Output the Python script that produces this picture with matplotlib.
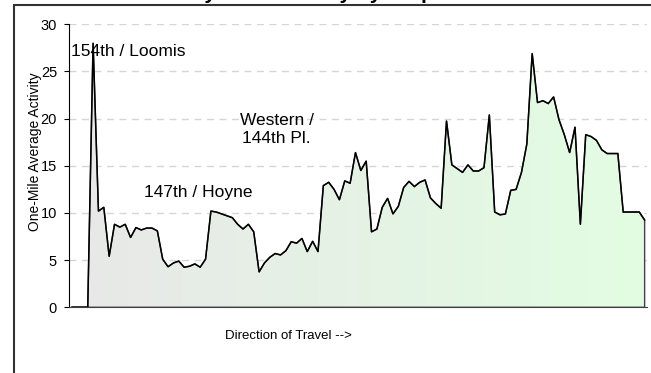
import numpy as np
import matplotlib
matplotlib.use("Agg")
import matplotlib.pyplot as plt
from matplotlib.colors import LinearSegmentedColormap
from matplotlib.patches import Polygon, Rectangle

plt.rcParams['font.family'] = ['Liberation Sans', 'DejaVu Sans']

# one-mile average activity, stops in direction of travel
activity = [0, 0, 0, 0,
            28.0, 10.2, 10.6, 5.4, 8.8, 8.5, 8.8, 7.4, 8.45, 8.2,
            8.4, 8.4, 8.1, 5.1, 4.3, 4.7, 4.9, 4.25, 4.35, 4.6,
            4.25, 5.1, 10.2, 10.1, 9.9, 9.7, 9.5, 8.8, 8.3, 8.8,
            8.0, 3.75, 4.7, 5.3, 5.7, 5.55, 6.0, 6.95, 6.8, 7.3,
            5.9, 7.0, 5.9, 12.9, 13.25, 12.5, 11.4, 13.4, 13.15, 16.4,
            14.5, 15.5, 8.0, 8.3, 10.6, 11.55, 9.9, 10.7, 12.7, 13.35,
            12.8, 13.25, 13.5, 11.6, 11.0, 10.5, 19.75, 15.1, 14.7, 14.3,
            15.1, 14.45, 14.45, 14.8, 20.4, 10.1, 9.8, 9.9, 12.4, 12.5,
            14.3, 17.3, 26.9, 21.7, 21.9, 21.6, 22.3, 19.9, 18.3, 16.4,
            19.1, 8.8, 18.3, 18.1, 17.7, 16.7, 16.3, 16.3, 16.3, 10.1,
            10.1, 10.1, 10.1, 9.25]

# (stop index, value, text)
landmarks = [(-0.1, 27.1, "154th / Loomis"),
             (13.5, 12.2, "147th / Hoyne"),
             (38.3, 18.9, "Western /\n144th Pl.")]

yticks = [0, 5, 10, 15, 20, 25, 30]

fig = plt.figure(figsize=(6.51, 3.73), dpi=100)
ax = fig.add_axes([69 / 651, 1 - 307.3 / 373, (647.3 - 69) / 651, (307.3 - 24.3) / 373])

x = np.arange(len(activity))
y = np.array(activity)

# area outline, also used to clip the gradient fill
verts = np.column_stack([np.r_[x[0], x, x[-1]], np.r_[0, y, 0]])
area = Polygon(verts, closed=True, facecolor='none', edgecolor='#404040', lw=1, zorder=3)
ax.add_patch(area)

fade = LinearSegmentedColormap.from_list('fade', ['#e8e8e8', '#e2fde2'])
grad = np.linspace(0, 1, 256).reshape(1, -1)
im = ax.imshow(grad, extent=[x[0], x[-1], 0, 30], aspect='auto', cmap=fade,
               origin='lower', zorder=1)
im.set_clip_path(area)

ax.plot(x, y, color='black', lw=1.1, zorder=4)

ax.set_xlim(-0.5, len(activity) - 0.5)
ax.set_ylim(0, 30)
ax.set_yticks(yticks)
ax.set_xticks([])
ax.yaxis.grid(True, linestyle=(0, (5, 4)), color='#d6d6d6', lw=1)
ax.set_axisbelow(True)
ax.tick_params(axis='y', direction='out', length=3.6, width=0.8, pad=5, labelsize=10.5)
for side in ['top', 'right']:
    ax.spines[side].set_visible(False)
ax.spines['left'].set_color('black')
ax.spines['bottom'].set_color('#404040')

for lx, ly, txt in landmarks:
    ha = 'center' if '\n' in txt else 'left'
    ax.text(lx, ly, txt, ha=ha, va='center', fontsize=12.5, linespacing=1.25, zorder=5)

fig.text(35 / 651, 1 - 152 / 373, "One-Mile Average Activity", rotation=90,
         ha='center', va='center', fontsize=10)
fig.text(288 / 651, 1 - 336 / 373, "Direction of Travel -->", ha='center', va='center',
         fontsize=9.5)

# chart title sits above the frame
fig.text(166 / 651, 1 + 0.9 / 373, "Daily Total Activity by Stop", ha='left',
         va='baseline', fontsize=15, fontweight='bold')

# outer chart frame
top = 1 - 4.5 / 373
fig.patches.append(Rectangle((14 / 651, -0.5), 2, top + 0.5, transform=fig.transFigure,
                             fill=False, ec='#333333', lw=1.5))

fig.savefig("out.png", dpi=100)
